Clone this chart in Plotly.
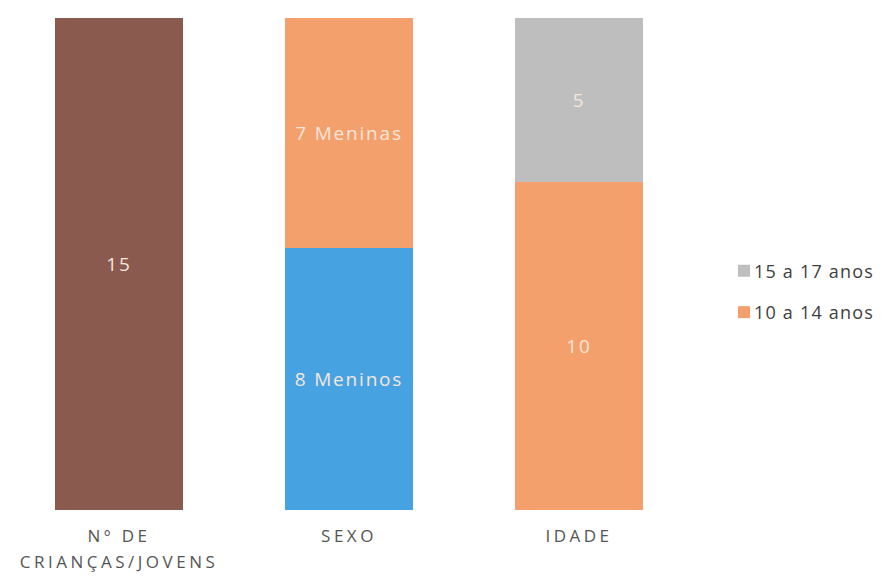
import plotly.graph_objects as go

categories = ["Nº DE<br>CRIANÇAS/JOVENS", "SEXO", "IDADE"]
total_vals = [15, None, None]
meninos_vals = [None, 8, None]
meninas_vals = [None, 7, None]
idade_10_14 = [None, None, 10]
idade_15_17 = [None, None, 5]

brown = "#8B5A4F"
blue = "#47A2E2"
orange = "#F4A06C"
gray = "#BEBEBE"
txt_in = "#F5E6DC"

def lab(vals, fmt):
    return [fmt.format(v) if v is not None else "" for v in vals]

fig = go.Figure()
common = dict(textposition="inside", insidetextanchor="middle",
              textfont=dict(color=txt_in, size=19, family="Open Sans"),
              hoverinfo="skip", marker_line_width=0)
fig.add_trace(go.Bar(x=categories, y=total_vals, marker_color=brown,
                     text=lab(total_vals, "{}"), showlegend=False,
                     name="Total", **common))
fig.add_trace(go.Bar(x=categories, y=meninos_vals, marker_color=blue,
                     text=lab(meninos_vals, "{} Meninos"), showlegend=False,
                     name="Meninos", **common))
fig.add_trace(go.Bar(x=categories, y=meninas_vals, marker_color=orange,
                     text=lab(meninas_vals, "{} Meninas"), showlegend=False,
                     name="Meninas", **common))
fig.add_trace(go.Bar(x=categories, y=idade_10_14, marker_color=orange,
                     text=lab(idade_10_14, "{}"), showlegend=True,
                     name="10 a 14 anos", legendgroup="d", legendrank=2, **common))
fig.add_trace(go.Bar(x=categories, y=idade_15_17, marker_color=gray,
                     text=lab(idade_15_17, "{}"), showlegend=True,
                     name="15 a 17 anos", legendgroup="e", legendrank=1, **common))

fig.update_layout(
    width=883, height=586,
    barmode="stack", bargap=0.4435,
    paper_bgcolor="white", plot_bgcolor="white",
    margin=dict(l=0, r=193, t=10, b=84),
    font=dict(family="Open Sans", color="#505050"),
    uniformtext=dict(minsize=10, mode="show"),
    xaxis=dict(showgrid=False, showline=False, zeroline=False,
               range=[-0.4826, 2.5174],
               tickfont=dict(size=17, color="#555555"), ticks="",
               ticklabelstandoff=14),
    yaxis=dict(visible=False, range=[0, 15], fixedrange=True),
    legend=dict(x=1.0377, y=0.444, xanchor="left", yanchor="middle",
                traceorder="grouped", tracegroupgap=15,
                font=dict(size=18, color="#404040"),
                itemwidth=30, bgcolor="rgba(0,0,0,0)"),
)
post = """
var gd = document.querySelector('.plotly-graph-div');
function restyleText(){
  document.querySelectorAll('.xtick text').forEach(function(t){
    t.setAttribute('letter-spacing','3.5px');
    var lines = t.querySelectorAll('tspan.line');
    for (var i = 1; i < lines.length; i++) { lines[i].setAttribute('dy', '1.5em'); }
  });
  document.querySelectorAll('.bartext').forEach(function(t){
    t.setAttribute('letter-spacing','1.8px');
  });
  document.querySelectorAll('.legend [clip-path]').forEach(function(e){
    e.removeAttribute('clip-path');
  });
  document.querySelectorAll('.legend').forEach(function(e){
    e.removeAttribute('clip-path');
  });
  document.querySelectorAll('.legendtext').forEach(function(t){
    t.setAttribute('letter-spacing','1.2px');
    t.setAttribute('x', '30');
  });
}
restyleText();
if (gd && gd.on) { gd.on('plotly_afterplot', restyleText); }
"""
fig.write_html("out.html", post_script=post)
